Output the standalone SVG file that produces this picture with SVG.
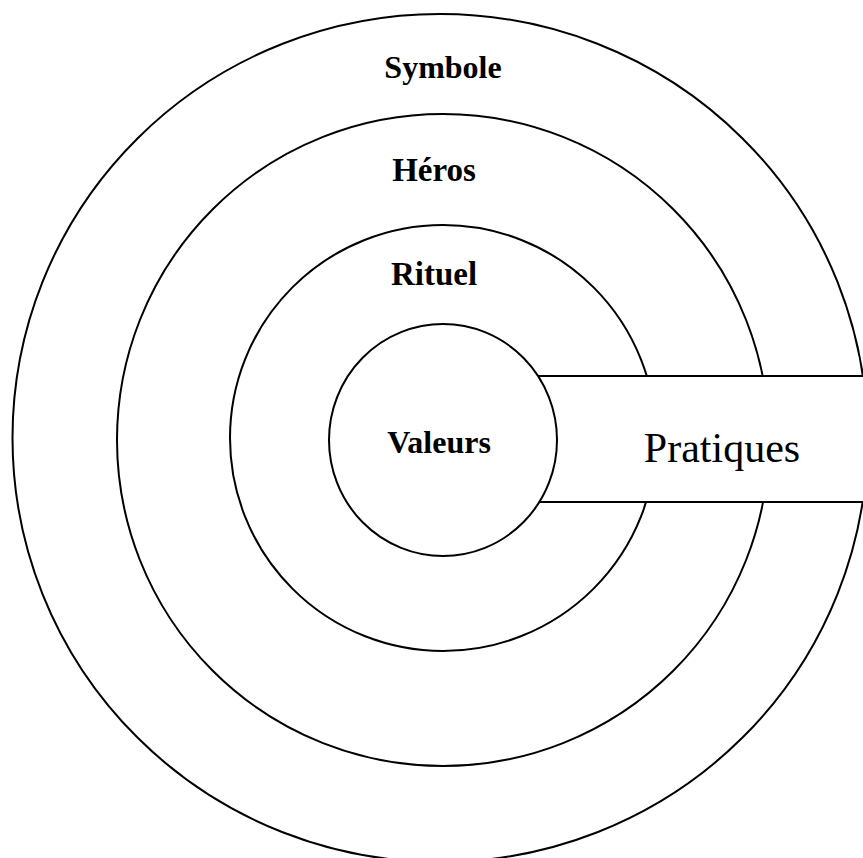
<svg xmlns="http://www.w3.org/2000/svg" width="863" height="858" viewBox="0 0 863 858">
<style>
.ring{fill:#fff;stroke:#000;stroke-width:2}
.lbl{font-family:"Liberation Serif","Times New Roman",serif;font-weight:bold;font-size:32px;text-anchor:middle;fill:#000}
.big{font-family:"Liberation Serif","Times New Roman",serif;font-size:42px;text-anchor:middle;fill:#000}
</style>
<rect width="863" height="858" fill="#fff"/>
<g id="symbole">
<ellipse class="ring" cx="440" cy="438" rx="427.5" ry="424"/>
<text class="lbl" x="443" y="78">Symbole</text>
</g>
<g id="heros">
<circle class="ring" cx="443" cy="440" r="326"/>
<text class="lbl" x="434" y="181" style="font-size:33px">Héros</text>
</g>
<g id="rituel">
<circle class="ring" cx="443" cy="438" r="213"/>
<text class="lbl" x="434" y="285" style="font-size:33px">Rituel</text>
</g>
<g id="pratiques">
<rect class="ring" x="500" y="376" width="380" height="126"/>
<text class="big" x="722" y="462">Pratiques</text>
</g>
<g id="valeurs">
<ellipse class="ring" cx="443" cy="440" rx="114" ry="116"/>
<text class="lbl" x="439" y="453">Valeurs</text>
</g>
<g id="connectors"></g>
</svg>
